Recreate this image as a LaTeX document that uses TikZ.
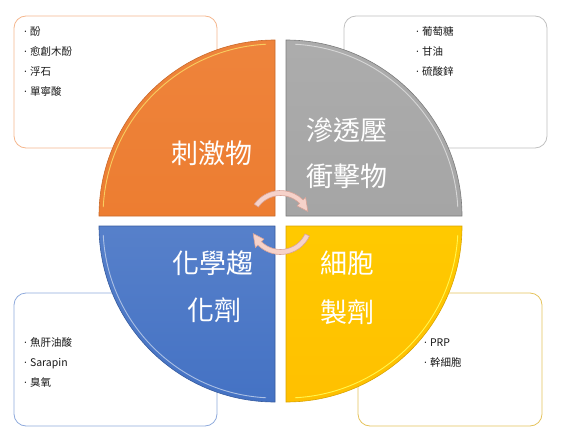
\documentclass[tikz,border=0pt]{standalone}
\usepackage{fontspec}
\setmainfont{Noto Sans CJK TC}
\newfontfamily\dotfont{Noto Sans}
\usepackage{xcolor}
\usepackage{tikz}

\definecolor{qorange}{HTML}{ED7D31}
\definecolor{qgray}{HTML}{A5A5A5}
\definecolor{qblue}{HTML}{4472C4}
\definecolor{qgold}{HTML}{FFC000}
\definecolor{pinkfill}{HTML}{F6D2CA}
\definecolor{pinkedge}{HTML}{D9A397}

\newcommand{\dotmark}{{\dotfont ·}\hspace{3pt}}

\begin{document}
\begin{tikzpicture}[x=1pt,y=1pt,
	listbox/.style={rounded corners=12pt,line width=0.8pt,fill=white},
	item/.style={anchor=west,inner sep=0pt,text height=9pt,text depth=1.5pt,text=black!90,font=\fontsize{10.5}{12}\selectfont},
	bigtext/.style={inner sep=0pt,text=white,font=\fontsize{27}{30}\selectfont},
	quarter/.style={line width=0.6pt},
	bevel/.style={line width=0.9pt},
	cyclearrow/.style={fill=pinkfill,draw=pinkedge,line width=0.6pt}]
	\useasboundingbox (0,0) rectangle (561,440);
	
	% boxes behind the circle
	\draw[listbox,draw=qorange!55!white] (14,292) rectangle (217,424);
	\draw[listbox,draw=qgray!70!white] (344,292) rectangle (547,424);
	\draw[listbox,draw=qblue!60!white] (14,14) rectangle (217,147);
	\draw[listbox,draw=qgold!60!white!90!black] (358,14) rectangle (542,147);
	
	% the four quarters
	\draw[quarter,draw=qorange!85!black,top color=qorange!95!white,bottom color=qorange] (275,224) -- (99,224) arc[start angle=180,end angle=90,radius=176] -- cycle;
	\draw[bevel,qorange!55!yellow!70!white] ([shift={(177:172)}]275,224) arc[start angle=177,end angle=93,radius=172];
	\draw[quarter,draw=qgray!75!black,top color=qgray!92!white,bottom color=qgray] (286,224) -- (286,400) arc[start angle=90,end angle=0,radius=176] -- cycle;
	\draw[bevel,qgray!45!white] ([shift={(87:172)}]286,224) arc[start angle=87,end angle=3,radius=172];
	\draw[quarter,draw=qblue!80!black,top color=qblue!90!white,bottom color=qblue] (275,214) -- (99,214) arc[start angle=180,end angle=270,radius=176] -- cycle;
	\draw[bevel,qblue!45!white] ([shift={(183:172)}]275,214) arc[start angle=183,end angle=267,radius=172];
	\draw[quarter,draw=qgold!85!black,top color=qgold!85!yellow,bottom color=qgold] (286,214) -- (462,214) arc[start angle=0,end angle=-90,radius=176] -- cycle;
	\draw[bevel,yellow!70!white] ([shift={(-3:172)}]286,214) arc[start angle=-3,end angle=-87,radius=172];
	
	% titles
	\node[bigtext] (stim) at (212,287) {刺激物};
	\node[bigtext] (osmo1) at (347,310) {滲透壓};
	\node[bigtext] (osmo2) at (347,264) {衝擊物};
	\node[bigtext] (chem1) at (213,177) {化學趨};
	\node[bigtext] (chem2) at (214,130) {化劑};
	\node[bigtext] (cell1) at (347,177) {細胞};
	\node[bigtext] (cell2) at (347,128) {製劑};
	
	% turning arrows in the middle
	\coordinate (hub) at (280.5,217.5);
	\filldraw[cyclearrow] ([shift={(145:32)}]hub) arc[start angle=145,end angle=45,radius=32]
		-- ([shift={(45:35.5)}]hub) -- ([shift={(22:29.5)}]hub) -- ([shift={(45:23.5)}]hub)
		-- ([shift={(45:27)}]hub) arc[start angle=45,end angle=145,radius=27] -- cycle;
	\filldraw[cyclearrow] ([shift={(-25:32)}]hub) arc[start angle=-25,end angle=-135,radius=32]
		-- ([shift={(-135:35.5)}]hub) -- ([shift={(-158:29.5)}]hub) -- ([shift={(-135:23.5)}]hub)
		-- ([shift={(-135:27)}]hub) arc[start angle=-135,end angle=-25,radius=27] -- cycle;
	
	% lists
	\node[item] (phen) at (24,408) {\dotmark 酚};
	\node[item] (guai) at (24,388) {\dotmark 愈創木酚};
	\node[item] (pumi) at (24,368) {\dotmark 浮石};
	\node[item] (tann) at (24,348) {\dotmark 單寧酸};
	
	\node[item] (gluc) at (416,408) {\dotmark 葡萄糖};
	\node[item] (glyc) at (416,388) {\dotmark 甘油};
	\node[item] (zinc) at (416,368) {\dotmark 硫酸鋅};
	
	\node[item] (morr) at (24,97) {\dotmark 魚肝油酸};
	\node[item] (sara) at (24,77) {\dotmark Sarapin};
	\node[item] (ozon) at (24,57) {\dotmark 臭氧};
	
	\node[item] (prp) at (424,97) {\dotmark PRP};
	\node[item] (stem) at (424,77) {\dotmark 幹細胞};
\end{tikzpicture}
\end{document}
